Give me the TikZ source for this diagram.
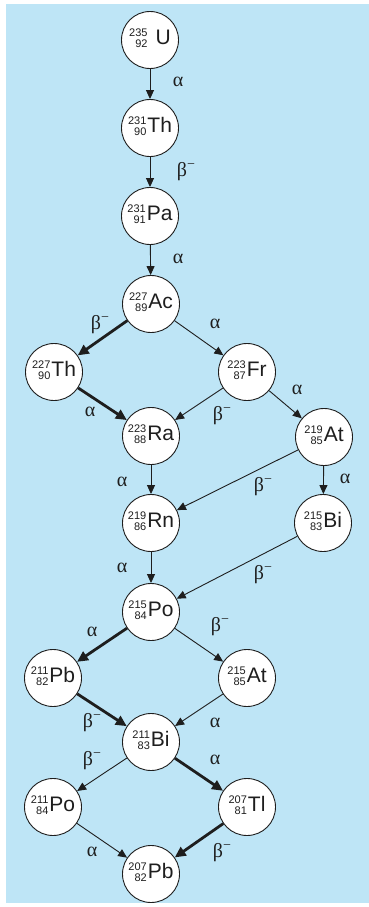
\documentclass[tikz,border=0pt]{standalone}
\usepackage{fontspec}
\setmainfont{Liberation Sans}
\newfontfamily\grk{Liberation Serif}
\usetikzlibrary{arrows.meta}
\definecolor{bgblue}{RGB}{190,229,246}
\definecolor{ink}{RGB}{30,30,30}
\newcommand\iso[4][1pt]{\raisebox{-3.2pt}{\fontsize{11}{11.4}\selectfont\begin{tabular}[b]{@{}r@{}}#2\\#3\end{tabular}}\kern#1{\fontsize{21}{23}\selectfont #4}}
\newcommand\al{{\grk\fontsize{20}{20}\selectfont α}}
\newcommand\bm{{\grk\fontsize{20}{20}\selectfont β\raisebox{0.4em}{\fontsize{14}{14}\selectfont −}}}
\begin{document}
\begin{tikzpicture}[x=1pt,y=-1pt,
  nuc/.style={circle,draw=ink,fill=white,line width=0.9pt,minimum size=57pt,inner sep=0pt,text=ink},
  ar/.style={draw=ink,line width=0.9pt,-{Triangle[length=9pt,width=8pt]}},
  arb/.style={draw=ink,line width=2.8pt,-{Triangle[length=11pt,width=10pt]}},
  lab/.style={inner sep=0pt,text=ink}]
\useasboundingbox (0,0) rectangle (369,907);
\fill[bgblue] (6,4) rectangle (369,903);
\node[nuc] (U)   at (150,40)  {\iso[8pt]{235}{92}{U}};
\node[nuc] (ThA) at (150,128) {\iso{231}{90}{Th}};
\node[nuc] (Pa)  at (150,216) {\iso{231}{91}{Pa}};
\node[nuc] (Ac)  at (151,304) {\iso{227}{89}{Ac}};
\node[nuc] (ThB) at (54,372)  {\iso{227}{90}{Th}};
\node[nuc] (Fr)  at (247,372) {\iso{223}{87}{Fr}};
\node[nuc] (Ra)  at (151,436) {\iso{223}{88}{Ra}};
\node[nuc] (AtA) at (324,437) {\iso{219}{85}{At}};
\node[nuc] (Rn)  at (151,523) {\iso{219}{86}{Rn}};
\node[nuc] (BiA) at (323,523) {\iso{215}{83}{Bi}};
\node[nuc] (PoA) at (151,612) {\iso{215}{84}{Po}};
\node[nuc] (PbA) at (53,678)  {\iso{211}{82}{Pb}};
\node[nuc] (AtB) at (247,678) {\iso{215}{85}{At}};
\node[nuc] (BiB) at (151,742) {\iso{211}{83}{Bi}};
\node[nuc] (PoB) at (53,807)  {\iso{211}{84}{Po}};
\node[nuc] (Tl)  at (247,807) {\iso{207}{81}{Tl}};
\node[nuc] (PbB) at (151,874) {\iso{207}{82}{Pb}};
\draw[ar]  (U) -- (ThA);
\draw[ar]  (ThA) -- (Pa);
\draw[ar]  (Pa) -- (Ac);
\draw[arb] (Ac) -- (ThB);
\draw[ar]  (Ac) -- (Fr);
\draw[arb] (ThB) -- (Ra);
\draw[ar]  (Fr) -- (Ra);
\draw[ar]  (Fr) -- (AtA);
\draw[ar]  (Ra) -- (Rn);
\draw[ar]  (AtA) -- (Rn);
\draw[ar]  (AtA) -- (BiA);
\draw[ar]  (Rn) -- (PoA);
\draw[ar]  (BiA) -- (PoA);
\draw[arb] (PoA) -- (PbA);
\draw[ar]  (PoA) -- (AtB);
\draw[arb] (PbA) -- (BiB);
\draw[ar]  (AtB) -- (BiB);
\draw[ar]  (BiB) -- (PoB);
\draw[arb] (BiB) -- (Tl);
\draw[ar]  (PoB) -- (PbB);
\draw[arb] (Tl) -- (PbB);
\node[lab] (l1)  at (178,82)  {\al};
\node[lab] (l2)  at (186,172) {\bm};
\node[lab] (l3)  at (178,259) {\al};
\node[lab] (l4)  at (100,325) {\bm};
\node[lab] (l5)  at (215,324) {\al};
\node[lab] (l6)  at (90,412)  {\al};
\node[lab] (l7)  at (222,416) {\bm};
\node[lab] (l8)  at (297,390) {\al};
\node[lab] (l9)  at (263,487) {\bm};
\node[lab] (l10) at (345,479) {\al};
\node[lab] (l11) at (122,482) {\al};
\node[lab] (l12) at (122,568) {\al};
\node[lab] (l13) at (263,575) {\bm};
\node[lab] (l14) at (92,632)  {\al};
\node[lab] (l15) at (220,627) {\bm};
\node[lab] (l16) at (92,723)  {\bm};
\node[lab] (l17) at (215,723) {\al};
\node[lab] (l18) at (92,761)  {\bm};
\node[lab] (l19) at (215,760) {\al};
\node[lab] (l20) at (92,852)  {\al};
\node[lab] (l21) at (222,853) {\bm};
\end{tikzpicture}
\end{document}
